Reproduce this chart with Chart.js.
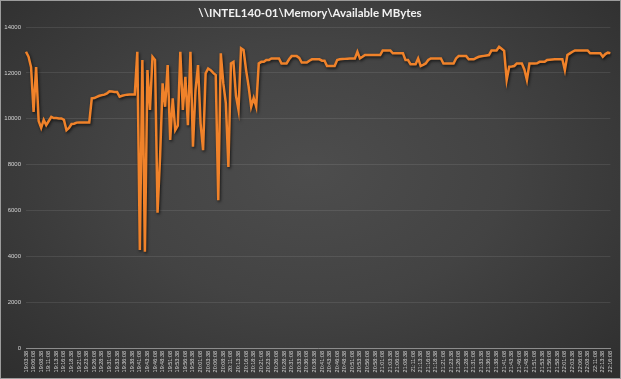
<!DOCTYPE html>
<html>
<head>
<meta charset="utf-8">
<script src="https://cdn.jsdelivr.net/npm/chart.js@4.4.1/dist/chart.umd.min.js"></script>
<style>
  html, body { margin: 0; padding: 0; background: #2b2b2b; }
  #wrap {
    position: relative; width: 621px; height: 379px; box-sizing: border-box;
    border: 1px solid #9c9c9c;
    background: radial-gradient(ellipse at 50% 45%, #4d4d4d 0%, #434343 45%, #2e2e2e 100%);
  }
  canvas { display: block; }
</style>
</head>
<body>
<div id="wrap"><canvas id="c" width="619" height="377"></canvas></div>
<script>
const chartTitle = "\\\\INTEL140-01\\Memory\\Available MBytes";

const tickLabels = [
  "19:03:38","19:06:08","19:08:38","19:11:08","19:13:38","19:16:08","19:18:38","19:21:08","19:23:38","19:26:08",
  "19:28:38","19:31:08","19:33:38","19:36:08","19:38:38","19:41:08","19:43:38","19:46:08","19:48:38","19:51:08",
  "19:53:38","19:56:08","19:58:38","20:01:08","20:03:38","20:06:08","20:08:38","20:11:08","20:13:38","20:16:08",
  "20:18:38","20:21:08","20:23:38","20:26:08","20:28:38","20:31:08","20:33:38","20:36:08","20:38:38","20:41:08",
  "20:43:38","20:46:08","20:48:38","20:51:08","20:53:38","20:56:08","20:58:38","21:01:08","21:03:38","21:06:08",
  "21:08:38","21:11:08","21:13:38","21:16:08","21:18:38","21:21:08","21:23:38","21:26:08","21:28:38","21:31:08",
  "21:33:38","21:36:08","21:38:38","21:41:08","21:43:38","21:46:08","21:48:38","21:51:08","21:53:38","21:56:08",
  "21:58:38","22:01:08","22:03:38","22:06:08","22:08:38","22:11:08","22:13:38","22:16:08"
];
const samplesPerTick = 3;   // one sample every 50 s
const sampleSeconds = 50;

const availableMBytes = [
  12920,12700,12250,10300,12250, 9900, 9600, 9950, 9720, 9900,
  10080,10030,10030,10010,10010, 9950, 9500, 9600, 9770, 9780,
   9830, 9840, 9840, 9840, 9840, 9840,10890,10900,10950,11000,
  11030,11050,11100,11200,11190,11170,11170,10960,11000,11030,
  11050,11060,11060,11060,12920, 4270,12560, 4200,12120,10380,
  12700,12560, 5900, 8340,11540,10520,12340, 9070,10890, 9505,
   9700,12920,10380,11830, 9720,12920, 8780,11250,12340, 9800,
   8630,11980,12190,12120,12000,11900, 6450,12850,11540,10670,
   7900,12410,12480,11000,10380,13070,13000,12120,11400,10520,
  10900,10520,12410,12480,12480,12560,12560,12630,12630,12630,
  12630,12410,12410,12410,12590,12730,12730,12730,12650,12450,
  12450,12450,12530,12590,12590,12590,12590,12530,12530,12300,
  12300,12300,12300,12560,12590,12600,12610,12620,12630,12630,
  12630,12920,12630,12700,12775,12775,12775,12775,12775,12775,
  12775,12980,12980,12980,12980,12850,12850,12850,12850,12850,
  12560,12560,12380,12380,12380,12630,12300,12350,12410,12560,
  12630,12630,12630,12630,12630,12410,12410,12410,12410,12410,
  12630,12730,12730,12730,12730,12590,12590,12590,12650,12700,
  12720,12740,12760,12775,12980,12980,12980,13140,13050,12960,
  11690,12270,12280,12300,12410,12410,12410,12150,11690,12410,
  12410,12410,12420,12480,12480,12480,12560,12570,12580,12590,
  12590,12590,12590,12120,12775,12850,12920,12980,12980,12980,
  12980,12980,12980,12850,12850,12850,12850,12850,12700,12820,
  12880,12860
];

const yTicks = [0, 2000, 4000, 6000, 8000, 10000, 12000, 14000];

// build category names (sample times) from the tick labels
function addSeconds(hms, s) {
  const [h, m, sec] = hms.split(":").map(Number);
  let t = h * 3600 + m * 60 + sec + s;
  const p = n => String(n).padStart(2, "0");
  return p(Math.floor(t / 3600)) + ":" + p(Math.floor(t % 3600 / 60)) + ":" + p(t % 60);
}
const categories = availableMBytes.map((_, i) => {
  const k = Math.floor(i / samplesPerTick), r = i % samplesPerTick;
  return r === 0 ? tickLabels[k] : addSeconds(tickLabels[k], r * sampleSeconds);
});

const shadowPlugin = {
  id: "lineShadow",
  beforeDatasetsDraw(chart) {
    const ctx = chart.ctx;
    ctx.save();
    ctx.shadowColor = "rgba(0,0,0,0.7)";
    ctx.shadowBlur = 3;
    ctx.shadowOffsetX = 1;
    ctx.shadowOffsetY = 1.5;
  },
  afterDatasetsDraw(chart) { chart.ctx.restore(); }
};

const titlePlugin = {
  id: "topTitle",
  afterDraw(chart) {
    const ctx = chart.ctx;
    ctx.save();
    ctx.font = "bold 11.5px Lato, 'Liberation Sans', sans-serif";
    ctx.fillStyle = "#f2f2f2";
    ctx.textAlign = "center";
    ctx.textBaseline = "middle";
    ctx.fillText(chartTitle, 309, 12);
    ctx.restore();
  }
};

new Chart(document.getElementById("c"), {
  type: "line",
  data: {
    labels: categories,
    datasets: [{
      data: availableMBytes,
      borderColor: "#f0822a",
      borderWidth: 2.5,
      pointRadius: 0,
      tension: 0,
      fill: false
    }]
  },
  options: {
    responsive: false,
    animation: false,
    layout: { padding: { left: 0, right: 6, top: 26, bottom: 0 } },
    plugins: { legend: { display: false }, tooltip: { enabled: false }, title: { display: false } },
    scales: {
      x: {
        type: "category",
        offset: false,
        grid: { display: false, drawTicks: false },
        border: { display: true, color: "#8c8c8c", width: 1 },
        ticks: {
          autoSkip: false,
          minRotation: 90,
          maxRotation: 90,
          padding: 3,
          color: "#d4d4d4",
          font: { family: "'Liberation Sans', sans-serif", size: 5.5 },
          callback: function (val, i) { return i % samplesPerTick === 0 ? tickLabels[i / samplesPerTick] : ""; }
        },
        afterFit(scale) { scale.height = 30; }
      },
      y: {
        min: 0,
        max: 14000,
        afterBuildTicks(scale) { scale.ticks = yTicks.map(v => ({ value: v })); },
        grid: { color: "rgba(255,255,255,0.09)", drawTicks: false, lineWidth: 1 },
        border: { display: false },
        ticks: {
          padding: 5,
          color: "#d4d4d4",
          font: { family: "'Liberation Sans', sans-serif", size: 6 },
          callback: v => String(v)
        },
        afterFit(scale) { scale.width = 25; }
      }
    }
  },
  plugins: [shadowPlugin, titlePlugin]
});
</script>
</body>
</html>
